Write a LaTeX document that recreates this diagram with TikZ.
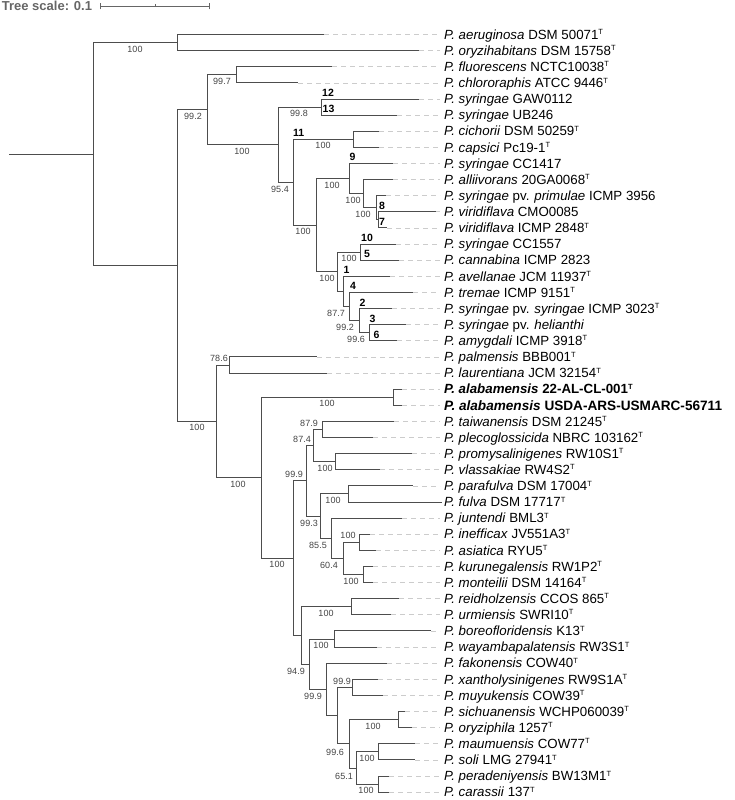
\documentclass[tikz,border=0pt]{standalone}
\usepackage{fontspec}
\setmainfont{Liberation Sans}
\definecolor{branchgray}{HTML}{4D4D4D}
\definecolor{guidegray}{HTML}{CCCCCC}
\definecolor{bsgray}{HTML}{444444}
\definecolor{scalegray}{HTML}{666666}
\newcommand{\typestr}{\raisebox{4.6pt}{\fontsize{7.5}{8}\selectfont T}}
\begin{document}
\begin{tikzpicture}[x=1pt,y=-1pt,
branch/.style={draw=branchgray,line width=0.9pt},
guide/.style={draw=guidegray,line width=0.7pt,dash pattern=on 5pt off 4pt},
leaf/.style={anchor=west,inner sep=0pt,text height=9.5pt,text depth=0pt,font=\fontsize{13.3}{15}\selectfont},
bs/.style={text=bsgray,inner sep=0pt,font=\fontsize{9}{10}\selectfont},
strain/.style={anchor=south west,inner sep=0pt,font=\bfseries\fontsize{10.5}{12}\selectfont},
%bs/.style={font=\tiny},
]
\useasboundingbox (0,0) rectangle (735,800);

% scale bar
\node[anchor=base west,inner sep=0pt,text=scalegray,font=\bfseries\fontsize{13}{15}\selectfont] (scaletxt) at (1.7,10.7) {Tree scale: 0.1};
\coordinate (sb1) at (100,6);
\coordinate (sb2) at (209,6);
\coordinate (sbm) at (155,6);
\draw[scalegray,line width=0.9pt] (sb1) -- (sb2);
\draw[scalegray,line width=0.9pt] ([yshift=-3.3pt]sb1) -- ([yshift=3.3pt]sb1);
\draw[scalegray,line width=0.9pt] ([yshift=-3.3pt]sb2) -- ([yshift=3.3pt]sb2);
\draw[scalegray,line width=0.9pt] (sbm) -- ([yshift=2pt]sbm);

% leaves
\node[leaf] (l1) at (444,34.5) {\textit{P. aeruginosa} DSM 50071\typestr}; \coordinate (t1) at (324,34.5);
\node[leaf] (l2) at (444,50.62) {\textit{P. oryzihabitans} DSM 15758\typestr}; \coordinate (t2) at (419,50.62);
\node[leaf] (l3) at (444,66.74) {\textit{P. fluorescens} NCTC10038\typestr}; \coordinate (t3) at (332,66.74);
\node[leaf] (l4) at (444,82.86) {\textit{P. chlororaphis} ATCC 9446\typestr}; \coordinate (t4) at (298,82.86);
\node[leaf] (l5) at (444,98.98) {\textit{P. syringae} GAW0112}; \coordinate (t5) at (419,98.98);
\node[leaf] (l6) at (444,115.1) {\textit{P. syringae} UB246}; \coordinate (t6) at (397,115.1);
\node[leaf] (l7) at (444,131.22) {\textit{P. cichorii} DSM 50259\typestr}; \coordinate (t7) at (379,131.22);
\node[leaf] (l8) at (444,147.34) {\textit{P. capsici} Pc19-1\typestr}; \coordinate (t8) at (379,147.34);
\node[leaf] (l9) at (444,163.46) {\textit{P. syringae} CC1417}; \coordinate (t9) at (393,163.46);
\node[leaf] (l10) at (444,179.58) {\textit{P. alliivorans} 20GA0068\typestr}; \coordinate (t10) at (393,179.58);
\node[leaf] (l11) at (444,195.7) {\textit{P. syringae} pv. \textit{primulae} ICMP 3956}; \coordinate (t11) at (386,195.7);
\node[leaf] (l12) at (444,211.82) {\textit{P. viridiflava} CMO0085}; \coordinate (t12) at (436,211.82);
\node[leaf] (l13) at (444,227.94) {\textit{P. viridiflava} ICMP 2848\typestr}; \coordinate (t13) at (387,227.94);
\node[leaf] (l14) at (444,244.06) {\textit{P. syringae} CC1557}; \coordinate (t14) at (396,244.06);
\node[leaf] (l15) at (444,260.18) {\textit{P. cannabina} ICMP 2823}; \coordinate (t15) at (399,260.18);
\node[leaf] (l16) at (444,276.3) {\textit{P. avellanae} JCM 11937\typestr}; \coordinate (t16) at (390,276.3);
\node[leaf] (l17) at (444,292.42) {\textit{P. tremae} ICMP 9151\typestr}; \coordinate (t17) at (413,292.42);
\node[leaf] (l18) at (444,308.54) {\textit{P. syringae} pv. \textit{syringae} ICMP 3023\typestr}; \coordinate (t18) at (392,308.54);
\node[leaf] (l19) at (444,324.66) {\textit{P. syringae} pv. \textit{helianthi}}; \coordinate (t19) at (406,324.66);
\node[leaf] (l20) at (444,340.78) {\textit{P. amygdali} ICMP 3918\typestr}; \coordinate (t20) at (397,340.78);
\node[leaf] (l21) at (444,356.9) {\textit{P. palmensis} BBB001\typestr}; \coordinate (t21) at (317,356.9);
\node[leaf] (l22) at (444,373.02) {\textit{P. laurentiana} JCM 32154\typestr}; \coordinate (t22) at (327,373.02);
\node[leaf] (l23) at (444,389.14) {\bfseries\textit{P. alabamensis} 22-AL-CL-001\typestr}; \coordinate (t23) at (402,389.14);
\node[leaf,font=\bfseries\fontsize{13.6}{15}\selectfont] (l24) at (444,405.26) {\textit{P. alabamensis} USDA-ARS-USMARC-56711}; \coordinate (t24) at (402,405.26);
\node[leaf] (l25) at (444,421.38) {\textit{P. taiwanensis} DSM 21245\typestr}; \coordinate (t25) at (394,421.38);
\node[leaf] (l26) at (444,437.5) {\textit{P. plecoglossicida} NBRC 103162\typestr}; \coordinate (t26) at (373,437.5);
\node[leaf] (l27) at (444,453.62) {\textit{P. promysalinigenes} RW10S1\typestr}; \coordinate (t27) at (412,453.62);
\node[leaf] (l28) at (444,469.74) {\textit{P. vlassakiae} RW4S2\typestr}; \coordinate (t28) at (380,469.74);
\node[leaf] (l29) at (444,485.86) {\textit{P. parafulva} DSM 17004\typestr}; \coordinate (t29) at (413,485.86);
\node[leaf] (l30) at (444,501.98) {\textit{P. fulva} DSM 17717\typestr}; \coordinate (t30) at (442,501.98);
\node[leaf] (l31) at (444,518.1) {\textit{P. juntendi} BML3\typestr}; \coordinate (t31) at (402,518.1);
\node[leaf] (l32) at (444,534.22) {\textit{P. inefficax} JV551A3\typestr}; \coordinate (t32) at (370,534.22);
\node[leaf] (l33) at (444,550.34) {\textit{P. asiatica} RYU5\typestr}; \coordinate (t33) at (376,550.34);
\node[leaf] (l34) at (444,566.46) {\textit{P. kurunegalensis} RW1P2\typestr}; \coordinate (t34) at (373,566.46);
\node[leaf] (l35) at (444,582.58) {\textit{P. monteilii} DSM 14164\typestr}; \coordinate (t35) at (373,582.58);
\node[leaf] (l36) at (444,598.7) {\textit{P. reidholzensis} CCOS 865\typestr}; \coordinate (t36) at (399,598.7);
\node[leaf] (l37) at (444,614.82) {\textit{P. urmiensis} SWRI10\typestr}; \coordinate (t37) at (391,614.82);
\node[leaf] (l38) at (444,630.94) {\textit{P. boreofloridensis} K13\typestr}; \coordinate (t38) at (431,630.94);
\node[leaf] (l39) at (444,647.06) {\textit{P. wayambapalatensis} RW3S1\typestr}; \coordinate (t39) at (377,647.06);
\node[leaf] (l40) at (444,663.18) {\textit{P. fakonensis} COW40\typestr}; \coordinate (t40) at (387,663.18);
\node[leaf] (l41) at (444,679.3) {\textit{P. xantholysinigenes} RW9S1A\typestr}; \coordinate (t41) at (378,679.3);
\node[leaf] (l42) at (444,695.42) {\textit{P. muyukensis} COW39\typestr}; \coordinate (t42) at (383,695.42);
\node[leaf] (l43) at (444,711.54) {\textit{P. sichuanensis} WCHP060039\typestr}; \coordinate (t43) at (405,711.54);
\node[leaf] (l44) at (444,727.66) {\textit{P. oryziphila} 1257\typestr}; \coordinate (t44) at (412,727.66);
\node[leaf] (l45) at (444,743.78) {\textit{P. maumuensis} COW77\typestr}; \coordinate (t45) at (415,743.78);
\node[leaf] (l46) at (444,759.9) {\textit{P. soli} LMG 27941\typestr}; \coordinate (t46) at (415,759.9);
\node[leaf] (l47) at (444,776.02) {\textit{P. peradeniyensis} BW13M1\typestr}; \coordinate (t47) at (389,776.02);
\node[leaf] (l48) at (444,792.14) {\textit{P. carassii} 137\typestr}; \coordinate (t48) at (389,792.14);

% dashed guides to the labels
\draw[guide] (t1) -- ([xshift=-4pt]l1.west);  \draw[guide] (t2) -- ([xshift=-4pt]l2.west);
\draw[guide] (t3) -- ([xshift=-4pt]l3.west);  \draw[guide] (t4) -- ([xshift=-4pt]l4.west);
\draw[guide] (t5) -- ([xshift=-4pt]l5.west);  \draw[guide] (t6) -- ([xshift=-4pt]l6.west);
\draw[guide] (t7) -- ([xshift=-4pt]l7.west);  \draw[guide] (t8) -- ([xshift=-4pt]l8.west);
\draw[guide] (t9) -- ([xshift=-4pt]l9.west);  \draw[guide] (t10) -- ([xshift=-4pt]l10.west);
\draw[guide] (t11) -- ([xshift=-4pt]l11.west); \draw[guide] (t12) -- ([xshift=-4pt]l12.west);
\draw[guide] (t13) -- ([xshift=-4pt]l13.west); \draw[guide] (t14) -- ([xshift=-4pt]l14.west);
\draw[guide] (t15) -- ([xshift=-4pt]l15.west); \draw[guide] (t16) -- ([xshift=-4pt]l16.west);
\draw[guide] (t17) -- ([xshift=-4pt]l17.west); \draw[guide] (t18) -- ([xshift=-4pt]l18.west);
\draw[guide] (t19) -- ([xshift=-4pt]l19.west); \draw[guide] (t20) -- ([xshift=-4pt]l20.west);
\draw[guide] (t21) -- ([xshift=-4pt]l21.west); \draw[guide] (t22) -- ([xshift=-4pt]l22.west);
\draw[guide] (t23) -- ([xshift=-4pt]l23.west); \draw[guide] (t24) -- ([xshift=-4pt]l24.west);
\draw[guide] (t25) -- ([xshift=-4pt]l25.west); \draw[guide] (t26) -- ([xshift=-4pt]l26.west);
\draw[guide] (t27) -- ([xshift=-4pt]l27.west); \draw[guide] (t28) -- ([xshift=-4pt]l28.west);
\draw[guide] (t29) -- ([xshift=-4pt]l29.west); %\draw[guide] (t30) -- ([xshift=-4pt]l30.west);
\draw[guide] (t31) -- ([xshift=-4pt]l31.west); \draw[guide] (t32) -- ([xshift=-4pt]l32.west);
\draw[guide] (t33) -- ([xshift=-4pt]l33.west); \draw[guide] (t34) -- ([xshift=-4pt]l34.west);
\draw[guide] (t35) -- ([xshift=-4pt]l35.west); \draw[guide] (t36) -- ([xshift=-4pt]l36.west);
\draw[guide] (t37) -- ([xshift=-4pt]l37.west); \draw[guide] (t38) -- ([xshift=-4pt]l38.west);
\draw[guide] (t39) -- ([xshift=-4pt]l39.west); \draw[guide] (t40) -- ([xshift=-4pt]l40.west);
\draw[guide] (t41) -- ([xshift=-4pt]l41.west); \draw[guide] (t42) -- ([xshift=-4pt]l42.west);
\draw[guide] (t43) -- ([xshift=-4pt]l43.west); \draw[guide] (t44) -- ([xshift=-4pt]l44.west);
\draw[guide] (t45) -- ([xshift=-4pt]l45.west); \draw[guide] (t46) -- ([xshift=-4pt]l46.west);
\draw[guide] (t47) -- ([xshift=-4pt]l47.west); \draw[guide] (t48) -- ([xshift=-4pt]l48.west);

% inner nodes
\coordinate (stub) at (9,154);
\coordinate (r0) at (93,154);
\coordinate (nA) at (177,42.56);
\coordinate (nB) at (177,265.5);
\coordinate (nC) at (207,109.7);
\coordinate (nE) at (236,74.8);
\coordinate (nF) at (278,144.6);
\coordinate (nG) at (321,107.04);
\coordinate (nH) at (293,182.2);
\coordinate (nCi) at (353,139.28);
\coordinate (nI) at (316,225.2);
\coordinate (n9) at (349,178.6);
\coordinate (nJ) at (363,193.7);
\coordinate (nK) at (376,207.8);
\coordinate (nL) at (378,219.88);
\coordinate (nM) at (337,271.8);
\coordinate (nN) at (360,252.12);
\coordinate (nO) at (343,291.4);
\coordinate (nP) at (349,306.5);
\coordinate (nQ) at (359,320.6);
\coordinate (nR) at (369,332.72);
\coordinate (nD) at (216,421.3);
\coordinate (nPl) at (229,364.96);
\coordinate (nS) at (261,477.7);
\coordinate (nAla) at (393,397.2);
\coordinate (nT) at (293,558.15);
\coordinate (nU) at (306,480.8);
\coordinate (nV) at (313,445.55);
\coordinate (nW) at (322,429.44);
\coordinate (nX) at (335,461.68);
\coordinate (nY) at (320,516.1);
\coordinate (nZ) at (348,493.92);
\coordinate (nAA) at (331,538.25);
\coordinate (nAB) at (343,558.4);
\coordinate (nAC) at (359,542.28);
\coordinate (nAD) at (363,574.52);
\coordinate (nAE) at (301,635.5);
\coordinate (nAF) at (351,606.76);
\coordinate (nAG) at (309,664.2);
\coordinate (nAH) at (334,639.0);
\coordinate (nAI) at (326,689.4);
\coordinate (nAJ) at (337,715.6);
\coordinate (nAK) at (352,687.36);
\coordinate (nAL) at (349,743.8);
\coordinate (nAM) at (398,719.6);
\coordinate (nAN) at (356,767.96);
\coordinate (nAO) at (378,751.84);
\coordinate (nAP) at (378,784.08);

% branches
\draw[branch] (stub) -- (r0);
\draw[branch] (r0) |- (nA) (r0) |- (nB);
\draw[branch] (nA) |- (t1) (nA) |- (t2);
\draw[branch] (nB) |- (nC) (nB) |- (nD);
\draw[branch] (nC) |- (nE) (nC) |- (nF);
\draw[branch] (nE) |- (t3) (nE) |- (t4);
\draw[branch] (nF) |- (nG) (nF) |- (nH);
\draw[branch] (nG) |- (t5) (nG) |- (t6);
\draw[branch] (nH) |- (nCi) (nH) |- (nI);
\draw[branch] (nCi) |- (t7) (nCi) |- (t8);
\draw[branch] (nI) |- (n9) (nI) |- (nM);
\draw[branch] (n9) |- (t9) (n9) |- (nJ);
\draw[branch] (nJ) |- (t10) (nJ) |- (nK);
\draw[branch] (nK) |- (t11) (nK) |- (nL);
\draw[branch] (nL) |- (t12) (nL) |- (t13);
\draw[branch] (nM) |- (nN) (nM) |- (nO);
\draw[branch] (nN) |- (t14) (nN) |- (t15);
\draw[branch] (nO) |- (t16) (nO) |- (nP);
\draw[branch] (nP) |- (t17) (nP) |- (nQ);
\draw[branch] (nQ) |- (t18) (nQ) |- (nR);
\draw[branch] (nR) |- (t19) (nR) |- (t20);
\draw[branch] (nD) |- (nPl) (nD) |- (nS);
\draw[branch] (nPl) |- (t21) (nPl) |- (t22);
\draw[branch] (nS) |- (nAla) (nS) |- (nT);
\draw[branch] (nAla) |- (t23) (nAla) |- (t24);
\draw[branch] (nT) |- (nU) (nT) |- (nAE);
\draw[branch] (nU) |- (nV) (nU) |- (nY);
\draw[branch] (nV) |- (nW) (nV) |- (nX);
\draw[branch] (nW) |- (t25) (nW) |- (t26);
\draw[branch] (nX) |- (t27) (nX) |- (t28);
\draw[branch] (nY) |- (nZ) (nY) |- (nAA);
\draw[branch] (nZ) |- (t29) (nZ) |- (t30);
\draw[branch] (nAA) |- (t31) (nAA) |- (nAB);
\draw[branch] (nAB) |- (nAC) (nAB) |- (nAD);
\draw[branch] (nAC) |- (t32) (nAC) |- (t33);
\draw[branch] (nAD) |- (t34) (nAD) |- (t35);
\draw[branch] (nAE) |- (nAF) (nAE) |- (nAG);
\draw[branch] (nAF) |- (t36) (nAF) |- (t37);
\draw[branch] (nAG) |- (nAH) (nAG) |- (nAI);
\draw[branch] (nAH) |- (t38) (nAH) |- (t39);
\draw[branch] (nAI) |- (t40) (nAI) |- (nAJ);
\draw[branch] (nAJ) |- (nAK) (nAJ) |- (nAL);
\draw[branch] (nAK) |- (t41) (nAK) |- (t42);
\draw[branch] (nAL) |- (nAM) (nAL) |- (nAN);
\draw[branch] (nAM) |- (t43) (nAM) |- (t44);
\draw[branch] (nAN) |- (nAO) (nAN) |- (nAP);
\draw[branch] (nAO) |- (t45) (nAO) |- (t46);
\draw[branch] (nAP) |- (t47) (nAP) |- (t48);

% bootstrap values
\node[bs] (bA) at (135,49.1) {100};
\node[bs] (bC) at (193,116.2) {99.2};
\node[bs] (bE) at (222,81.3) {99.7};
\node[bs] (bF) at (242,151.1) {100};
\node[bs] (bG) at (299,113.5) {99.8};
\node[bs] (bH) at (280,189.5) {95.4};
\node[bs] (bCi) at (323,145.8) {100};
\node[bs] (bI) at (303,231.7) {100};
\node[bs] (b9) at (332,185.1) {100};
\node[bs] (bJ) at (353,200.2) {100};
\node[bs] (bK) at (363,214.3) {100};
\node[bs] (bM) at (327,278.3) {100};
\node[bs] (bN) at (349,258.6) {100};
\node[bs] (bP) at (336,313.5) {87.7};
\node[bs] (bQ) at (345,327.6) {99.2};
\node[bs] (bR) at (356,339.8) {99.6};
\node[bs] (bD) at (197,427.8) {100};
\node[bs] (bPl) at (219,358.5) {78.6};
\node[bs] (bS) at (238,484.2) {100};
\node[bs] (bAla) at (327,403.7) {100};
\node[bs] (bT) at (277,564.7) {100};
\node[bs] (bU) at (294,474.3) {99.9};
\node[bs] (bV) at (302,439.1) {87.4};
\node[bs] (bW) at (309,423) {87.9};
\node[bs] (bX) at (325,468.2) {100};
\node[bs] (bY) at (309,523.5) {99.3};
\node[bs] (bZ) at (333,500.4) {100};
\node[bs] (bAA) at (318,545.8) {85.5};
\node[bs] (bAB) at (329,565.8) {60.4};
\node[bs] (bAC) at (348,535.8) {100};
\node[bs] (bAD) at (351,581.5) {100};
\node[bs] (bAF) at (326,613.3) {100};
\node[bs] (bAG) at (296,671.2) {94.9};
\node[bs] (bAH) at (321,645.5) {100};
\node[bs] (bAI) at (313,696.4) {99.9};
\node[bs] (bAK) at (342,680.9) {99.9};
\node[bs] (bAL) at (335,752.3) {99.6};
\node[bs] (bAM) at (373,726.1) {100};
\node[bs] (bAN) at (344,776) {65.1};
\node[bs] (bAO) at (367,758.4) {100};
\node[bs] (bAP) at (366,790.6) {100};

% strain numbers
\node[strain] (s12) at (322,96.7) {12};
\node[strain] (s13) at (322.5,112.8) {13};
\node[strain] (s11) at (293,137) {11};
\node[strain] (s9) at (349.5,161.2) {9};
\node[strain] (s8) at (379,209.5) {8};
\node[strain] (s7) at (379,225.6) {7};
\node[strain] (s10) at (361,241.8) {10};
\node[strain] (s5) at (364,257.9) {5};
\node[strain] (s1) at (343.5,274) {1};
\node[strain] (s4) at (350,290.1) {4};
\node[strain] (s2) at (359.5,306.2) {2};
\node[strain] (s3) at (369.5,322.4) {3};
\node[strain] (s6) at (373.5,338.5) {6};
\end{tikzpicture}
\end{document}
